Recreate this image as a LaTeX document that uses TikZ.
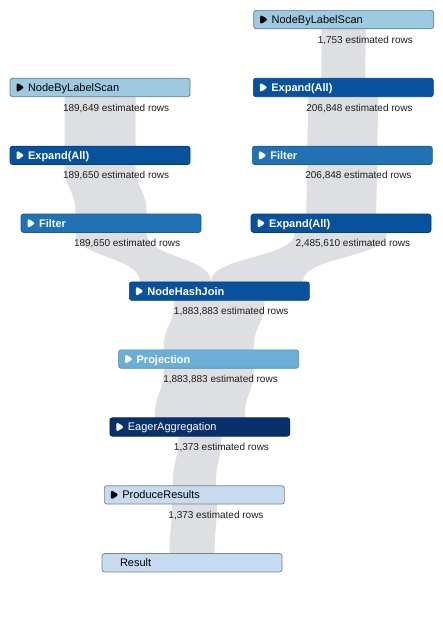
\documentclass[tikz,border=0pt]{standalone}
\usepackage{fontspec}
\setmainfont{Liberation Sans}
\usetikzlibrary{calc}
\pgfdeclarelayer{bg}
\pgfsetlayers{bg,main}
\definecolor{lightop}{HTML}{9ECAE1}
\definecolor{expandop}{HTML}{08519C}
\definecolor{filterop}{HTML}{2171B5}
\definecolor{projop}{HTML}{6BAED6}
\definecolor{eagerop}{HTML}{08306B}
\definecolor{paleop}{HTML}{C6DBEF}
\definecolor{bandgray}{RGB}{222,223,226}
\definecolor{rowtext}{RGB}{30,30,30}
% band from child #1 to parent #2, width #3, horizontal offset #4 at parent
\newcommand\flowband[4]{%
  \fill[bandgray]
    ($(#1.center)+(-#3/2,0)$) -- ($(#1.south)+(-#3/2,0)$)
    .. controls ($(#1.south)+(-#3/2,-25)$) and ($(#2.north)+(#4-#3/2,25)$) ..
    ($(#2.north)+(#4-#3/2,0)$) -- ($(#2.center)+(#4-#3/2,0)$)
    -- ($(#2.center)+(#4+#3/2,0)$) -- ($(#2.north)+(#4+#3/2,0)$)
    .. controls ($(#2.north)+(#4+#3/2,25)$) and ($(#1.south)+(#3/2,-25)$) ..
    ($(#1.south)+(#3/2,0)$) -- ($(#1.center)+(#3/2,0)$) -- cycle;}
\tikzset{
  opbox/.style={rectangle, rounded corners=2.5pt, minimum width=180pt,
    minimum height=18.4pt, inner ysep=0pt, inner xsep=18pt, text width=144pt,
    align=left, anchor=north west, font=\fontsize{11}{13}\selectfont,
    text height=9.5pt, text depth=1.5pt, line width=0.7pt},
  tri/.style={path picture={\fill[#1]
      ($(path picture bounding box.west)+(6.5pt,5pt)$) -- ++(8pt,-5pt)
      -- ++(-8pt,-5pt) -- cycle;}},
  darkop/.style={opbox, fill=#1, draw=#1!80!black, text=white,
    font=\fontsize{11}{13}\selectfont\bfseries, tri=white},
  lightbox/.style={opbox, fill=#1, draw=#1!60!black, text=black, tri=black},
  rowlbl/.style={anchor=base east, font=\fontsize{10}{12}\selectfont,
    text=rowtext, inner sep=0pt}
}
\begin{document}
\begin{tikzpicture}[x=1pt,y=1pt]
\useasboundingbox (0,0) rectangle (443,-632);
% operators
\node[lightbox=lightop] (scanR) at (253.3,-10) {NodeByLabelScan};
\node[lightbox=lightop] (scanL) at (9.7,-77.9) {NodeByLabelScan};
\node[darkop=expandop] (expR) at (253,-77.9) {Expand(All)};
\node[darkop=expandop] (expL) at (9.7,-145.8) {Expand(All)};
\node[darkop=filterop] (filR) at (252,-145.8) {Filter};
\node[darkop=filterop] (filL) at (20.7,-213.7) {Filter};
\node[darkop=expandop] (exp2R) at (250.7,-213.7) {Expand(All)};
\node[darkop=expandop] (join) at (129,-281.6) {NodeHashJoin};
\node[darkop=projop] (proj) at (118.3,-349.5) {Projection};
\node[darkop=eagerop, font=\fontsize{11}{13}\selectfont] (eager) at (109.5,-417.4) {EagerAggregation};
\node[lightbox=paleop] (produce) at (104,-485.3) {ProduceResults};
\node[opbox, fill=paleop, draw=paleop!60!black, text=black] (result) at (101.7,-553.2) {Result};
% row estimates
\node[rowlbl] (scanRrows) at ($(scanR.south east)+(-21,-14)$) {1,753 estimated rows};
\node[rowlbl] (scanLrows) at ($(scanL.south east)+(-21,-14)$) {189,649 estimated rows};
\node[rowlbl] (expRrows) at ($(expR.south east)+(-21,-14)$) {206,848 estimated rows};
\node[rowlbl] (expLrows) at ($(expL.south east)+(-21,-14)$) {189,650 estimated rows};
\node[rowlbl] (filRrows) at ($(filR.south east)+(-21,-14)$) {206,848 estimated rows};
\node[rowlbl] (filLrows) at ($(filL.south east)+(-21,-14)$) {189,650 estimated rows};
\node[rowlbl] (exp2Rrows) at ($(exp2R.south east)+(-21,-14)$) {2,485,610 estimated rows};
\node[rowlbl] (joinrows) at ($(join.south east)+(-21,-14)$) {1,883,883 estimated rows};
\node[rowlbl] (projrows) at ($(proj.south east)+(-21,-14)$) {1,883,883 estimated rows};
\node[rowlbl] (eagerrows) at ($(eager.south east)+(-21,-14)$) {1,373 estimated rows};
\node[rowlbl] (producerows) at ($(produce.south east)+(-21,-14)$) {1,373 estimated rows};
% flow bands
\begin{pgfonlayer}{bg}
\fill[white] (0,0) rectangle (443,-632);
\flowband{scanR}{expR}{44}{0}
\flowband{expR}{filR}{70}{0}
\flowband{filR}{exp2R}{70}{0}
\flowband{scanL}{expL}{71}{0}
\flowband{expL}{filL}{71}{0}
\flowband{filL}{join}{71}{-44}
\flowband{exp2R}{join}{92}{37.5}
\flowband{join}{proj}{90}{0}
\flowband{proj}{eager}{90}{0}
\flowband{eager}{produce}{43}{0}
\flowband{produce}{result}{45}{0}
\end{pgfonlayer}
\end{tikzpicture}
\end{document}
